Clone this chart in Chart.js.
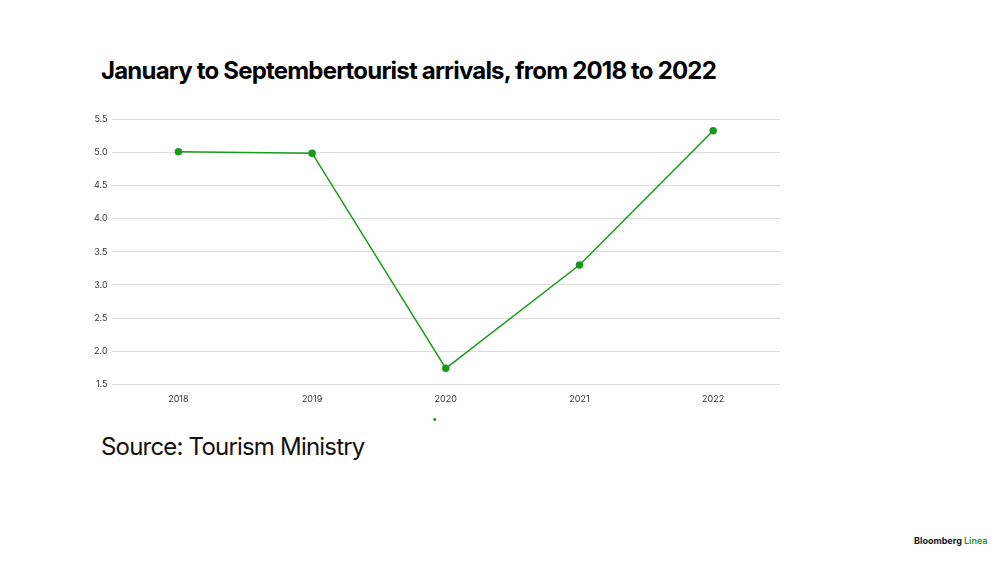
<!DOCTYPE html>
<html><head><meta charset="utf-8">
<script src="https://cdn.jsdelivr.net/npm/chart.js@4"></script>
<style>
body{margin:0;width:1000px;height:562px;background:#fff;font-family:Inter,"Noto Sans",sans-serif;position:relative;overflow:hidden}
#title{position:absolute;left:101px;top:56px;font-size:24px;font-weight:700;letter-spacing:-0.8px;color:#000}
#src{position:absolute;left:101px;top:432px;font-size:24px;letter-spacing:-0.8px;color:#111}
#wrap{position:absolute;left:90px;top:110px;width:700px;height:320px}
#logo{position:absolute;left:914px;top:535px;font-size:9px;font-weight:700;color:#111}
#logo span{color:#1a9a1a;font-weight:600}
</style></head><body>
<div id="title">January to Septembertourist arrivals, from 2018 to 2022</div>
<div id="wrap"><canvas id="c"></canvas></div>
<div id="src">Source: Tourism Ministry</div>
<div id="logo">Bloomberg <span>Línea</span></div>
<script>
const categories=["2018","2019","2020","2021","2022"];
const arrivals=[5.01,4.99,1.74,3.30,5.33];
new Chart(document.getElementById('c'),{
type:'line',
data:{labels:categories,datasets:[{label:'',data:arrivals,borderColor:'#1a9a1a',backgroundColor:'#1a9a1a',borderWidth:1.5,pointRadius:3,pointHoverRadius:3,tension:0}]},
options:{responsive:true,maintainAspectRatio:false,animation:false,
layout:{padding:{top:5,right:10}},
plugins:{legend:{position:'bottom',labels:{usePointStyle:true,pointStyle:'circle',boxWidth:10,boxHeight:10,padding:12,font:{size:1}}},tooltip:{enabled:false}},
scales:{
x:{offset:true,grid:{display:false},border:{display:false},ticks:{color:'#333',font:{family:'Inter',size:9},padding:2}},
y:{min:1.5,max:5.5,ticks:{stepSize:0.5,color:'#333',font:{family:'Inter',size:9},padding:4,callback:v=>v.toFixed(1)},grid:{color:'#dcdcdc',drawTicks:false},border:{display:false}}
}}});
</script>
</body></html>
